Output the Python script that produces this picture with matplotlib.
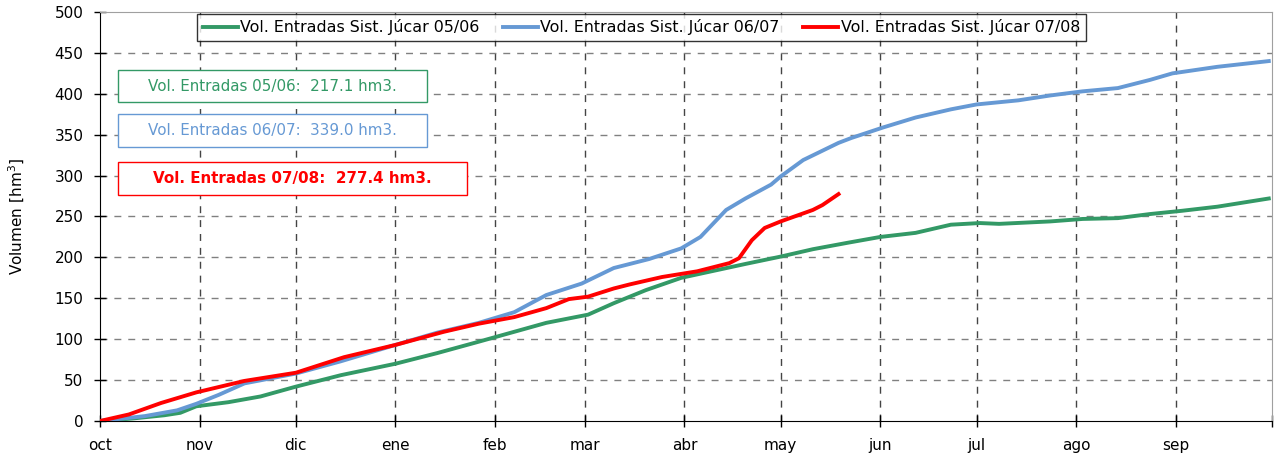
import matplotlib
matplotlib.use("Agg")
import matplotlib.pyplot as plt
from matplotlib.patches import Rectangle

# days since 1 Oct
days_0506 = [0, 10, 20, 25, 30, 40, 50, 61, 75, 92, 105, 118, 139, 152, 160, 170, 181, 201,
             212, 222, 233, 243, 254, 265, 274, 280, 296, 306, 317, 327, 337, 348, 364]
vol_0506 = [0, 3, 7, 10, 18, 23, 30, 42, 56, 70, 83, 97, 120, 130, 144, 160, 175, 192,
            201, 210, 218, 225, 230, 240, 242, 241, 244, 247, 248, 253, 257, 262, 272]

days_0607 = [0, 14, 24, 30, 37, 45, 61, 75, 92, 105, 118, 129, 139, 150, 160, 171, 181, 187,
             195, 201, 209, 212, 219, 230, 234, 244, 254, 265, 273, 286, 296, 306, 317, 327,
             334, 348, 364]
vol_0607 = [0, 6, 13, 21, 32, 46, 58, 73, 93, 108, 120, 133, 154, 168, 187, 198, 211, 225,
            258, 272, 289, 299, 319, 340, 346, 359, 371, 381, 387, 392, 398, 403, 407, 417,
            425, 433, 440]

days_0708 = [0, 9, 19, 30, 45, 61, 76, 92, 107, 118, 129, 139, 146, 152, 160, 165, 175, 186,
             196, 199, 203, 207, 212, 222, 225, 230]
vol_0708 = [0, 8, 22, 35, 49, 59, 78, 93, 109, 119, 127, 138, 149, 152, 162, 167, 176, 183,
            193, 199, 221, 236, 244, 258, 264, 277.4]

month_days = [0, 31, 61, 92, 123, 151, 182, 212, 243, 273, 304, 335, 365]
month_labels = ["oct", "nov", "dic", "ene", "feb", "mar", "abr", "may", "jun", "jul",
                "ago", "sep", ""]

labels = ["Vol. Entradas Sist. Júcar 05/06", "Vol. Entradas Sist. Júcar 06/07",
          "Vol. Entradas Sist. Júcar 07/08"]
box_texts = ["Vol. Entradas 05/06:  217.1 hm3.", "Vol. Entradas 06/07:  339.0 hm3.",
             "Vol. Entradas 07/08:  277.4 hm3."]

green = "#339966"
blue = "#6699d4"
red = "#ff0000"

fig = plt.figure(figsize=(12.74, 4.63), dpi=100)
ax = fig.add_axes([100 / 1274, 1 - 421 / 463, 1172 / 1274, 409 / 463])

ax.plot(days_0506, vol_0506, color=green, lw=2.8, label=labels[0], zorder=3)
ax.plot(days_0607, vol_0607, color=blue, lw=2.8, label=labels[1], zorder=3)
ax.plot(days_0708, vol_0708, color=red, lw=2.8, label=labels[2], zorder=4)

ax.set_xlim(0, 365)
ax.set_ylim(0, 500)
ax.set_xticks(month_days)
ax.set_xticklabels(month_labels, fontsize=11)
ax.set_yticks(range(0, 501, 50))
ax.tick_params(axis="y", labelsize=11)
ax.tick_params(direction="inout", length=8, width=1, color="black", pad=8)

for d in month_days[1:-1]:
    ax.axvline(d, color="#444444", lw=1, ls=(0, (5, 5)), zorder=1)
for v in range(50, 500, 50):
    ax.axhline(v, color="#808080", lw=1, ls=(0, (5, 5)), zorder=1)

ax.spines["left"].set_color("black")
ax.spines["bottom"].set_color("black")
ax.spines["top"].set_color("#a0a0a0")
ax.spines["right"].set_color("#a0a0a0")

ax.set_ylabel("Volumen [hm$^3$]", fontsize=11, labelpad=20)

leg = ax.legend(loc="upper left", bbox_to_anchor=(0.083, 0.996), borderaxespad=0,
                ncol=3, frameon=True, fancybox=False, edgecolor="black",
                handlelength=2.2, handletextpad=0.15, columnspacing=1.5, borderpad=0.35,
                prop={"size": 11.4})
leg.get_frame().set_linewidth(1)

boxes = [
    (0.0154, 0.780, 0.264, 0.078, green, "normal"),
    (0.0154, 0.670, 0.264, 0.081, blue, "normal"),
    (0.0154, 0.553, 0.298, 0.080, red, "bold"),
]
for (x0, y0, w, h, c, wt), txt in zip(boxes, box_texts):
    ax.add_patch(Rectangle((x0, y0), w, h, transform=ax.transAxes, facecolor="white",
                           edgecolor=c, lw=1, zorder=5))
    ax.text(x0 + w / 2, y0 + h / 2, txt, transform=ax.transAxes, ha="center",
            va="center", color=c, fontsize=10.9, fontweight=wt, zorder=6)

fig.savefig("out.png", dpi=100)
